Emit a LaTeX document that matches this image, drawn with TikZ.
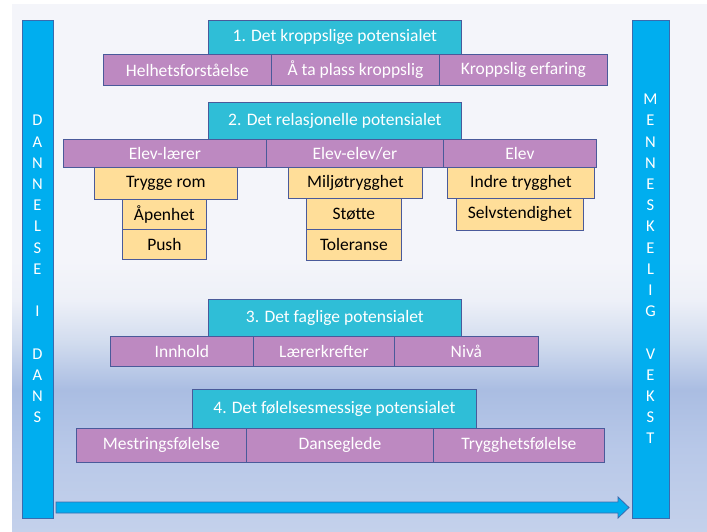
\documentclass[tikz,border=0pt]{standalone}
\usepackage{fontspec}
\setmainfont{Carlito}
\usetikzlibrary{positioning}
\definecolor{bartop}{HTML}{00AEEF}
\definecolor{barline}{HTML}{3A6BAE}
\definecolor{tealc}{HTML}{2FBED7}
\definecolor{purpc}{HTML}{BD89C1}
\definecolor{yelc}{HTML}{FFDE99}
\definecolor{boxline}{HTML}{4A5A9A}
\definecolor{bgtop}{HTML}{F4F5FA}
\definecolor{bgmid}{HTML}{D3DDEF}
\definecolor{bgband}{HTML}{AABDE2}
\definecolor{bglow}{HTML}{B8C8E8}
\definecolor{bgbot}{HTML}{C4D1EB}
\pgfdeclareverticalshading{bgshade}{100bp}{color(0bp)=(bgbot); color(25bp)=(bgbot); color(32.8bp)=(bglow); color(38.5bp)=(bgband); color(43.2bp)=(bgmid); color(47bp)=(bgtop!80!bgmid); color(50.8bp)=(bgtop); color(75bp)=(bgtop); color(100bp)=(bgtop)}
\tikzset{
  base/.style={draw=boxline, line width=0.8pt, inner sep=0pt, anchor=north west,
    font=\fontsize{17.5}{20}\selectfont},
  hdr/.style={base, fill=tealc, text=white},
  pbox/.style={base, fill=purpc, text=white},
  ybox/.style={base, fill=yelc, text=black},
  bar/.style={draw=barline, line width=0.9pt, fill=bartop, text=white, inner sep=0pt,
    align=center, font=\fontsize{16.5}{21.2}\selectfont},
}
\begin{document}
\begin{tikzpicture}[x=1pt,y=-1pt]
\useasboundingbox (0,0) rectangle (707,532);
\fill[white] (0,0) rectangle (707,532);
\shade[shading=bgshade] (12,5) rectangle (707,532);

% side bars
\node[bar, minimum width=31pt, minimum height=498pt] (left) at (37.5,269) {D\\A\\N\\N\\E\\L\\S\\E\\\mbox{}\\I\\\mbox{}\\D\\A\\N\\S};
\node[bar, minimum width=37pt, minimum height=498pt] (right) at (650.5,269) {M\\E\\N\\N\\E\\S\\K\\E\\L\\I\\G\\\mbox{}\\V\\E\\K\\S\\T};

% bottom arrow
\coordinate (as) at (56,502);
\coordinate (tip) at (629,507.5);
\draw[draw=barline, line width=0.8pt, fill=bartop] (as) -- (618,502) -- (618,497) -- (tip) -- (618,518) -- (618,513) -- (56,513) -- cycle;

% 1
\node[hdr, minimum width=253pt, minimum height=34pt] (h1) at (208,20) {1. Det kroppslige potensialet};
\node[pbox, minimum width=168pt, minimum height=31pt] (a1) at (103,54) {Helhetsforståelse};
\node[pbox, minimum width=168pt, minimum height=31pt] (a2) at (271,54) {Å ta plass kroppslig};
\node[pbox, minimum width=168pt, minimum height=31pt] (a3) at (439,54) {Kroppslig erfaring};

% 2
\node[hdr, minimum width=253pt, minimum height=37pt] (h2) at (208,102) {2. Det relasjonelle potensialet};
\node[pbox, minimum width=203pt, minimum height=28pt] (b1) at (63,139) {Elev-lærer};
\node[pbox, minimum width=177pt, minimum height=28pt] (b2) at (266,139) {Elev-elev/er};
\node[pbox, minimum width=153pt, minimum height=28pt] (b3) at (443,139) {Elev};
\node[ybox, minimum width=143pt, minimum height=32pt] (y1) at (94,167) {Trygge rom};
\node[ybox, minimum width=84pt, minimum height=30pt] (y2) at (122,199) {Åpenhet};
\node[ybox, minimum width=84pt, minimum height=30pt] (y3) at (122,229) {Push};
\node[ybox, minimum width=134pt, minimum height=31pt] (y4) at (288,167) {Miljøtrygghet};
\node[ybox, minimum width=95pt, minimum height=31pt] (y5) at (306,198) {Støtte};
\node[ybox, minimum width=95pt, minimum height=31pt] (y6) at (306,229) {Toleranse};
\node[ybox, minimum width=147pt, minimum height=31pt] (y7) at (447,167) {Indre trygghet};
\node[ybox, minimum width=127pt, minimum height=32pt] (y8) at (456,198) {Selvstendighet};

% 3
\node[hdr, minimum width=253pt, minimum height=37pt] (h3) at (208,299) {3. Det faglige potensialet};
\node[pbox, minimum width=143pt, minimum height=30pt] (c1) at (110,336) {Innhold};
\node[pbox, minimum width=141pt, minimum height=30pt] (c2) at (253,336) {Lærerkrefter};
\node[pbox, minimum width=144pt, minimum height=30pt] (c3) at (394,336) {Nivå};

% 4
\node[hdr, minimum width=284pt, minimum height=39pt] (h4) at (192,389) {4. Det følelsesmessige potensialet};
\node[pbox, minimum width=170pt, minimum height=34pt] (d1) at (76,428) {Mestringsfølelse};
\node[pbox, minimum width=187pt, minimum height=34pt] (d2) at (246,428) {Danseglede};
\node[pbox, minimum width=171pt, minimum height=34pt] (d3) at (433,428) {Trygghetsfølelse};
\end{tikzpicture}
\end{document}
